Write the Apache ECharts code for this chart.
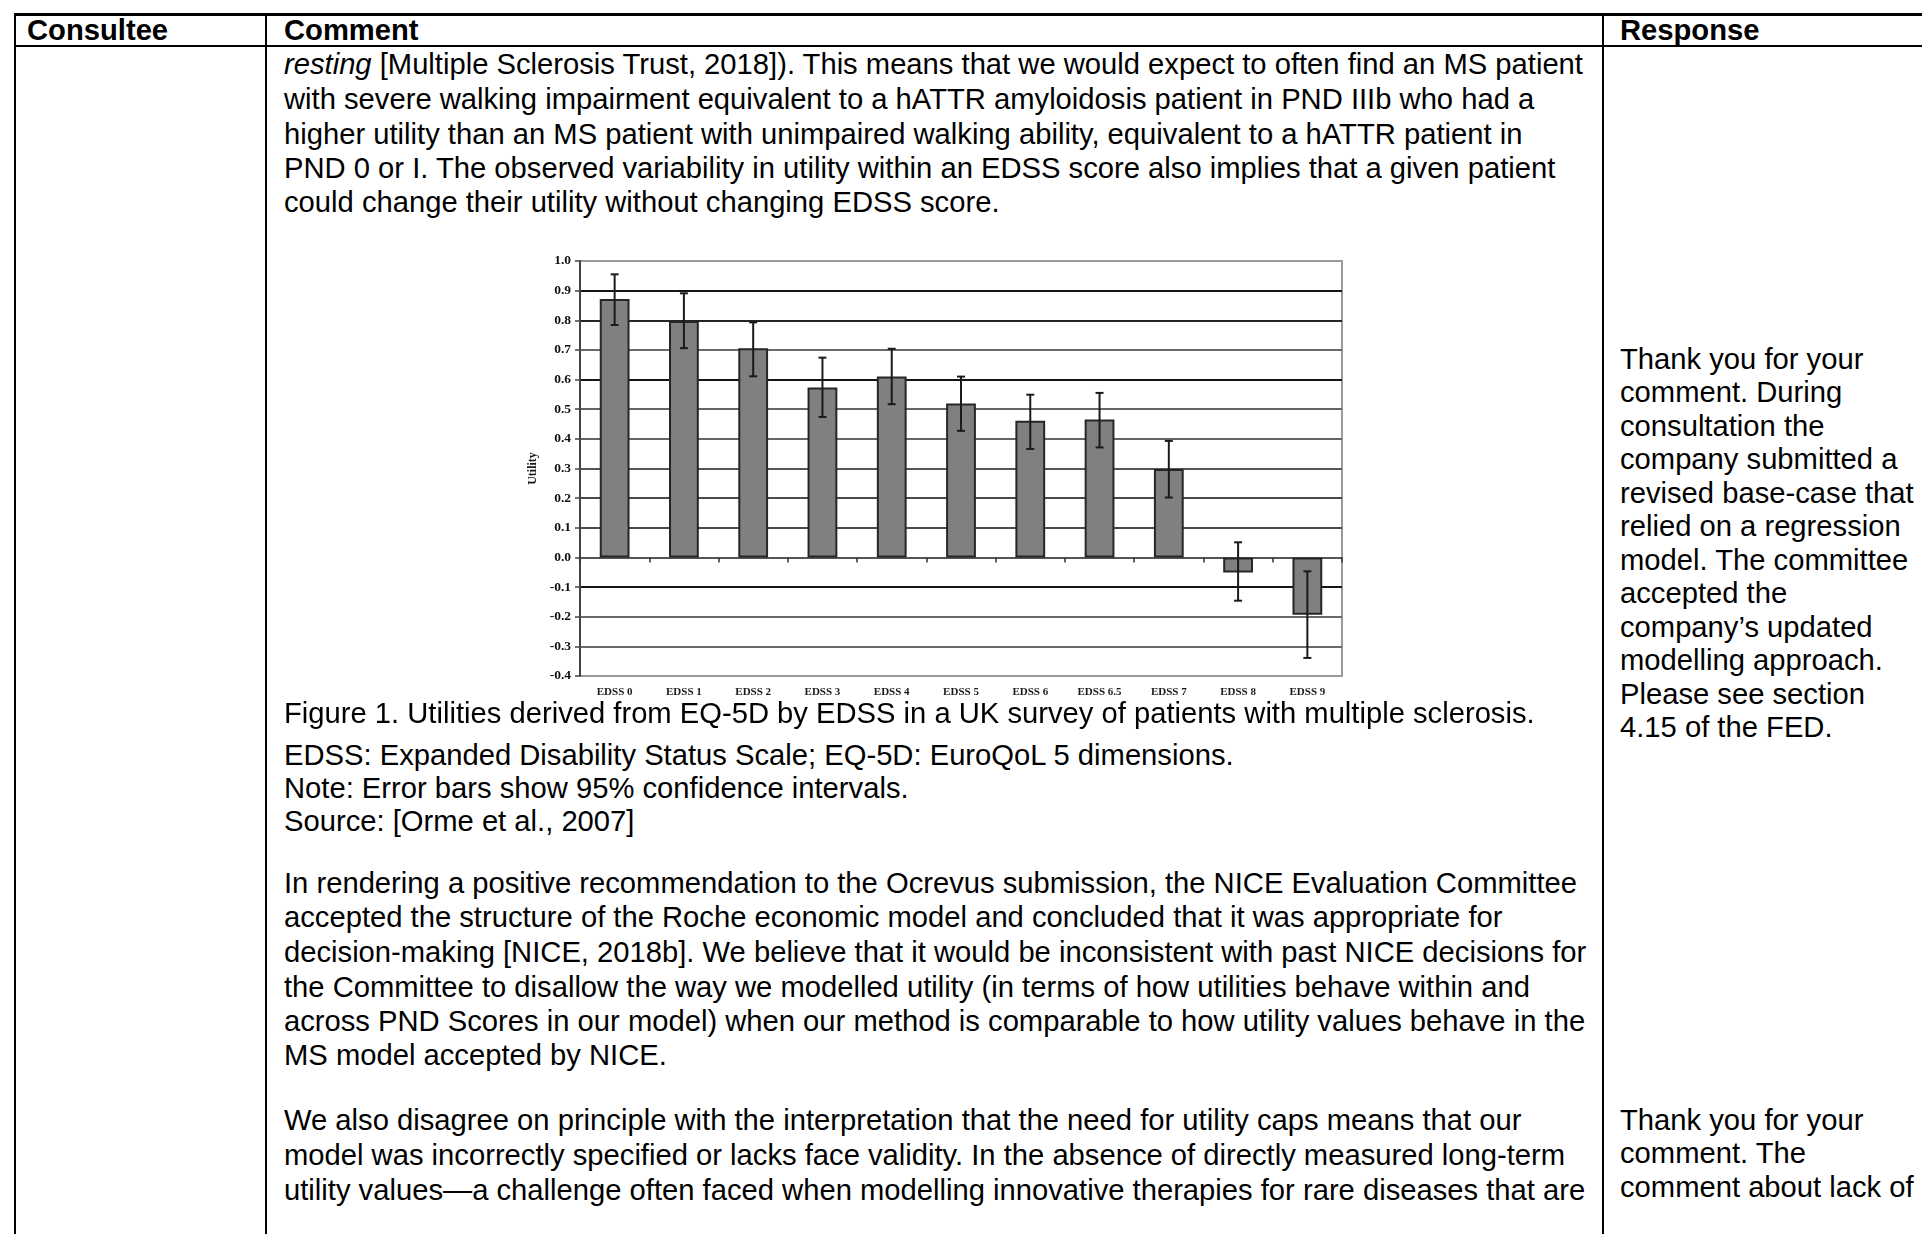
<!DOCTYPE html>
<html>
<head>
<meta charset="utf-8">
<title>Consultation comments</title>
<script src="https://cdn.jsdelivr.net/npm/echarts@6/dist/echarts.min.js"></script>
<style>
  html, body { margin: 0; padding: 0; background: #fff; }
  body { width: 1922px; height: 1234px; position: relative; overflow: hidden;
         font-family: "Liberation Sans", Arial, sans-serif; color: #000; }
  .ln { position: absolute; white-space: nowrap; font-size: 29.2px; line-height: 34px; }
  .hd { font-weight: bold; }
  .rule { position: absolute; background: #000; }
  #chart { position: absolute; left: 480px; top: 230px; width: 900px; height: 472px;
           filter: blur(0.35px); }
</style>
</head>
<body>
<!-- table rules -->
<div class="rule" style="left:14px; top:13px; width:1908px; height:3px;"></div>
<div class="rule" style="left:14px; top:45px; width:1908px; height:2px;"></div>
<div class="rule" style="left:14px; top:13px; width:2px; height:1221px;"></div>
<div class="rule" style="left:265px; top:13px; width:2px; height:1221px;"></div>
<div class="rule" style="left:1602px; top:13px; width:2px; height:1221px;"></div>

<div id="chart"></div>
<div id="text"></div>

<script>
// Utility by EDSS score (EQ-5D, UK MS survey) with 95% confidence limits
var categories = ['EDSS 0', 'EDSS 1', 'EDSS 2', 'EDSS 3', 'EDSS 4', 'EDSS 5',
                  'EDSS 6', 'EDSS 6.5', 'EDSS 7', 'EDSS 8', 'EDSS 9'];
var utility = [0.872, 0.798, 0.706, 0.573, 0.610, 0.519, 0.461, 0.465, 0.298, -0.051, -0.193];
var ciLower = [0.784, 0.706, 0.611, 0.474, 0.517, 0.427, 0.366, 0.371, 0.202, -0.146, -0.339];
var ciUpper = [0.955, 0.891, 0.793, 0.674, 0.704, 0.610, 0.549, 0.555, 0.393, 0.051, -0.047];
var yMin = -0.4, yMax = 1.0, yStep = 0.1;

// Document text: header cells, comment lines and response lines (centre y, html)
var headerLines = [
  [27, 30, 'Consultee'],
  [284, 30, 'Comment'],
  [1620, 30, 'Response']
];
var commentLines = [
  [64,   '<i>resting</i> [Multiple Sclerosis Trust, 2018]). This means that we would expect to often find an MS patient'],
  [99,   'with severe walking impairment equivalent to a hATTR amyloidosis patient in PND IIIb who had a'],
  [134,  'higher utility than an MS patient with unimpaired walking ability, equivalent to a hATTR patient in'],
  [168,  'PND 0 or I. The observed variability in utility within an EDSS score also implies that a given patient'],
  [202,  'could change their utility without changing EDSS score.'],
  [713,  'Figure 1. Utilities derived from EQ-5D by EDSS in a UK survey of patients with multiple sclerosis.'],
  [755,  'EDSS: Expanded Disability Status Scale; EQ-5D: EuroQoL 5 dimensions.'],
  [788,  'Note: Error bars show 95% confidence intervals.'],
  [821,  'Source: [Orme et al., 2007]'],
  [883,  'In rendering a positive recommendation to the Ocrevus submission, the NICE Evaluation Committee'],
  [917,  'accepted the structure of the Roche economic model and concluded that it was appropriate for'],
  [952,  'decision-making [NICE, 2018b]. We believe that it would be inconsistent with past NICE decisions for'],
  [987,  'the Committee to disallow the way we modelled utility (in terms of how utilities behave within and'],
  [1021, 'across PND Scores in our model) when our method is comparable to how utility values behave in the'],
  [1055, 'MS model accepted by NICE.'],
  [1120, 'We also disagree on principle with the interpretation that the need for utility caps means that our'],
  [1155, 'model was incorrectly specified or lacks face validity. In the absence of directly measured long-term'],
  [1190, 'utility values\u2014a challenge often faced when modelling innovative therapies for rare diseases that are']
];
var responseLines = [
  [359, 'Thank you for your'], [392, 'comment. During'], [426, 'consultation the'],
  [459, 'company submitted a'], [493, 'revised base-case that'], [526, 'relied on a regression'],
  [560, 'model. The committee'], [593, 'accepted the'], [627, 'company\u2019s updated'],
  [660, 'modelling approach.'], [694, 'Please see section'], [727, '4.15 of the FED.'],
  [1120, 'Thank you for your'], [1153, 'comment. The'], [1187, 'comment about lack of']
];

(function buildText() {
  var host = document.getElementById('text');
  function add(x, cy, html, cls) {
    var d = document.createElement('div');
    d.className = 'ln' + (cls ? ' ' + cls : '');
    d.style.left = x + 'px';
    d.style.top = (cy - 17) + 'px';
    d.innerHTML = html;
    host.appendChild(d);
  }
  headerLines.forEach(function (h) { add(h[0], h[1], h[2], 'hd'); });
  commentLines.forEach(function (l) { add(284, l[0], l[1]); });
  responseLines.forEach(function (l) { add(1620, l[0], l[1]); });
})();

// Gridline shades, bottom to top
var gridShades = ['#9a9a9a', '#6a6a6a', '#6a6a6a', '#151515', '#5a5a5a', '#4a4a4a', '#4a4a4a',
                  '#555', '#666', '#666', '#151515', '#6a6a6a', '#252525', '#151515', '#9a9a9a'];

var chart = echarts.init(document.getElementById('chart'), null, { renderer: 'canvas' });
var serif = '"Liberation Serif", "DejaVu Serif", serif';

chart.setOption({
  animation: false,
  backgroundColor: 'transparent',
  grid: { left: 100, top: 31, width: 762, height: 415, show: true,
          borderColor: '#9a9a9a', borderWidth: 2, backgroundColor: 'transparent' },
  xAxis: [{
    type: 'category',
    data: categories,
    axisLine: { onZero: true, lineStyle: { color: '#555', width: 2 } },
    axisTick: { show: true, length: 5, lineStyle: { color: '#333', width: 1.5 } },
    axisLabel: { show: false },
    splitLine: { show: false }
  }, {
    type: 'category',
    data: categories,
    position: 'bottom',
    axisLine: { show: false, onZero: false },
    axisTick: { show: false },
    axisLabel: { show: true, margin: 11, fontFamily: serif, fontWeight: 'bold',
                 fontSize: 11, color: '#1a1a1a' },
    splitLine: { show: false }
  }],
  yAxis: {
    type: 'value',
    min: yMin, max: yMax, interval: yStep,
    name: 'Utility',
    nameLocation: 'middle',
    nameGap: 34,
    nameRotate: 90,
    nameTextStyle: { fontFamily: serif, fontWeight: 'bold', fontSize: 12, color: '#1a1a1a' },
    axisLine: { show: true, lineStyle: { color: '#444', width: 2 } },
    axisTick: { show: true, length: 5, lineStyle: { color: '#444', width: 1.5 } },
    axisLabel: {
      margin: 9, fontFamily: serif, fontWeight: 'bold', fontSize: 13.5, color: '#111',
      formatter: function (v) { return Math.abs(v) < 1e-9 ? '0.0' : v.toFixed(1); }
    },
    splitLine: { show: true, lineStyle: { color: gridShades, width: 2 } }
  },
  series: [{
    type: 'bar',
    xAxisIndex: 0,
    data: utility,
    barWidth: '43%',
    itemStyle: { color: '#808080', borderColor: '#262626', borderWidth: 2 },
    z: 3
  }, {
    type: 'custom',
    xAxisIndex: 0,
    data: categories.map(function (c, i) { return [i, ciLower[i], ciUpper[i]]; }),
    encode: { x: 0, y: [1, 2] },
    z: 10,
    renderItem: function (params, api) {
      var i = api.value(0);
      var lo = api.coord([i, api.value(1)]);
      var hi = api.coord([i, api.value(2)]);
      var hw = 4;
      var st = { stroke: '#1a1a1a', lineWidth: 2 };
      return {
        type: 'group',
        children: [
          { type: 'line', shape: { x1: hi[0], y1: hi[1], x2: lo[0], y2: lo[1] }, style: st },
          { type: 'line', shape: { x1: hi[0] - hw, y1: hi[1], x2: hi[0] + hw, y2: hi[1] }, style: st },
          { type: 'line', shape: { x1: lo[0] - hw, y1: lo[1], x2: lo[0] + hw, y2: lo[1] }, style: st }
        ]
      };
    }
  }]
});
</script>
</body>
</html>
